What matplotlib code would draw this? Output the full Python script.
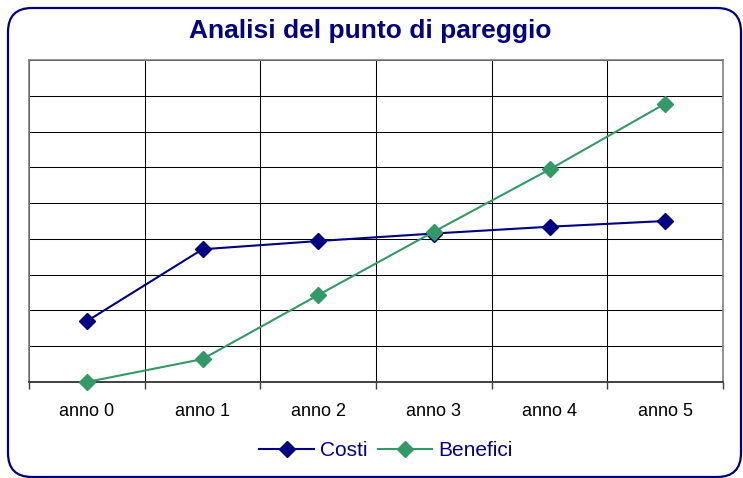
import matplotlib

matplotlib.use('Agg')

import matplotlib.pyplot as plt
from matplotlib.patches import FancyBboxPatch

plt.rcParams['font.family'] = ['Liberation Sans', 'DejaVu Sans']

# Dati (unità = righe della griglia)
anni = ["anno 0", "anno 1", "anno 2", "anno 3", "anno 4", "anno 5"]
costi = [1.70, 3.71, 3.94, 4.15, 4.34, 4.50]
benefici = [0.0, 0.64, 2.43, 4.20, 5.94, 7.78]
griglia_y = list(range(10))

NAVY = "#000080"
VERDE = "#339966"

fig = plt.figure(figsize=(7.43, 4.78), dpi=100)

# Cornice arrotondata (coordinate in pixel)
cornice = FancyBboxPatch((8, 1), 733, 469, boxstyle="round,pad=0,rounding_size=24",
                         transform=None, facecolor="none", edgecolor=NAVY,
                         linewidth=1.6, zorder=0)
fig.patches.append(cornice)

ax = fig.add_axes([29 / 743, 1 - 382 / 478, 694 / 743, 322 / 478])
ax.set_facecolor("none")
ax.set_zorder(2)

x = list(range(len(anni)))
ax.plot(x, costi, color=NAVY, linewidth=1.5, marker="D", markersize=8,
        markerfacecolor=NAVY, markeredgecolor=NAVY, label="Costi", zorder=3,
        clip_on=False)
ax.plot(x, benefici, color=VERDE, linewidth=1.5, marker="D", markersize=8,
        markerfacecolor=VERDE, markeredgecolor=VERDE, label="Benefici", zorder=4,
        clip_on=False)

ax.set_xlim(-0.5, len(anni) - 0.5)
ax.set_ylim(griglia_y[0], griglia_y[-1])

# Etichette al centro delle categorie, linee ai confini
ax.set_xticks(x)
ax.set_xticklabels(anni, fontsize=13)
ax.set_xticks([i - 0.5 for i in range(len(anni) + 1)], minor=True)
ax.tick_params(axis="x", which="major", length=0, pad=15)
ax.tick_params(axis="x", which="minor", length=5, width=1, color="#404040",
               direction="out")
ax.set_yticks(griglia_y)
ax.set_yticklabels([])
ax.tick_params(axis="y", length=0)

ax.grid(True, axis="y", color="#000000", linewidth=0.75)
ax.grid(True, axis="x", which="minor", color="#000000", linewidth=0.75)
ax.set_axisbelow(True)

for lato in ["left", "right", "top"]:
    ax.spines[lato].set_color("#808080")
    ax.spines[lato].set_linewidth(1.2)
ax.spines["bottom"].set_color("#404040")
ax.spines["bottom"].set_linewidth(1.4)

fig.text(370 / 743, 1 - 31 / 478, "Analisi del punto di pareggio", ha="center",
         va="center", fontsize=19, fontweight="bold", color=NAVY)

leg = fig.legend(loc="center", bbox_to_anchor=(386 / 743, 1 - 451 / 478), ncol=2,
                 frameon=False, fontsize=15, handlelength=2.6, handletextpad=0.3,
                 columnspacing=0.5)
for t in leg.get_texts():
    t.set_color(NAVY)

fig.savefig("out.png", dpi=100)
plt.close(fig)
